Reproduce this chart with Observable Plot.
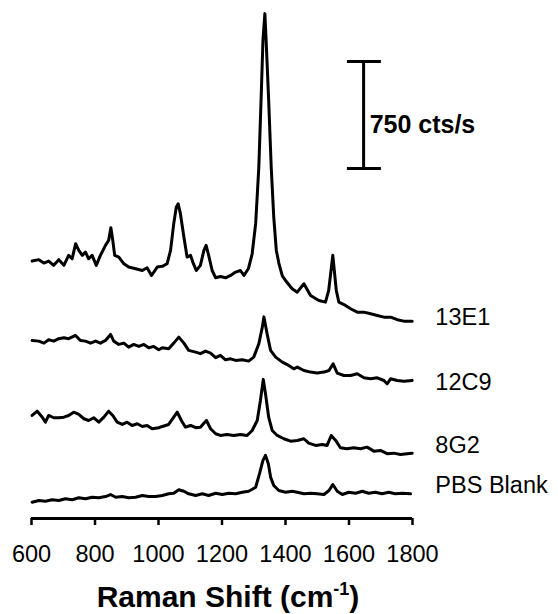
<!DOCTYPE html>
<html><head><meta charset="utf-8">
<script src="https://cdn.jsdelivr.net/npm/d3@7"></script>
<script src="https://cdn.jsdelivr.net/npm/@observablehq/plot@0.6"></script>
<style>
body{margin:0;background:#fff;}
#wrap{position:relative;width:558px;height:614px;font-family:Arial,"Liberation Sans",sans-serif;background:#fff;}
#title{position:absolute;left:0;top:582px;width:456px;text-align:center;font-size:30px;font-weight:bold;line-height:30px;color:#000;}
#title sup{font-size:18px;vertical-align:12px;line-height:0;}
</style></head><body>
<div id="wrap"><div id="chart"></div><div id="title">Raman Shift (cm<sup>-1</sup>)</div></div>
<script>
// Raman shift (cm^-1) vs. displayed intensity (cts/s, traces stacked)
const s13E1 = [[602,1804],[623,1814],[639,1790],[654,1804],[670,1774],[686,1814],[702,1774],[717,1844],[728,1820],[739,1926],
[749,1879],[760,1844],[770,1867],[780,1820],[791,1844],[804,1774],[817,1844],[833,1914],[843,1949],[850,2038],
[856,1949],[862,1844],[875,1832],[891,1785],[906,1762],[928,1750],[949,1738],[964,1757],[978,1703],[996,1762],
[1012,1767],[1027,1785],[1038,1879],[1048,2066],[1056,2182],[1062,2206],[1069,2136],[1080,1972],[1090,1832],[1101,1844],
[1108,1797],[1119,1738],[1132,1774],[1143,1879],[1150,1914],[1158,1844],[1169,1738],[1180,1687],[1195,1696],[1211,1687],
[1227,1703],[1243,1727],[1258,1738],[1269,1703],[1283,1750],[1295,1855],[1306,2066],[1316,2463],[1323,2930],[1329,3351],
[1335,3538],[1339,3351],[1347,2930],[1355,2463],[1363,2112],[1371,1880],[1379,1790],[1390,1700],[1400,1668],[1421,1610],
[1437,1586],[1458,1645],[1479,1563],[1505,1528],[1526,1516],[1536,1598],[1549,1844],[1560,1598],[1568,1516],[1589,1493],
[1605,1470],[1626,1446],[1647,1446],[1668,1435],[1689,1423],[1710,1411],[1731,1411],[1752,1393],[1773,1383],[1799,1383]];
const s12C9 = [[602,1248],[623,1243],[639,1229],[654,1253],[670,1243],[686,1260],[702,1267],[717,1260],[739,1283],[754,1248],
[770,1243],[786,1229],[802,1243],[817,1229],[833,1248],[849,1290],[859,1243],[875,1220],[891,1229],[906,1201],
[922,1220],[938,1206],[954,1220],[969,1197],[985,1206],[1001,1183],[1012,1197],[1032,1190],[1048,1229],[1064,1271],
[1080,1229],[1095,1178],[1117,1166],[1132,1155],[1148,1173],[1164,1159],[1180,1127],[1195,1143],[1211,1112],[1227,1119],
[1243,1108],[1264,1112],[1284,1103],[1300,1131],[1316,1225],[1327,1341],[1332,1413],[1342,1295],[1353,1178],[1369,1131],
[1390,1096],[1410,1073],[1426,1049],[1437,1061],[1458,1037],[1479,1026],[1500,1019],[1521,1026],[1537,1037],[1550,1084],
[1563,1019],[1584,1002],[1605,1002],[1626,1014],[1647,986],[1668,979],[1689,986],[1710,967],[1720,944],[1731,979],
[1752,967],[1773,962],[1799,967]];
const s8G2 = [[602,722],[618,752],[634,710],[644,675],[654,722],[670,706],[686,706],[702,710],[717,722],[733,745],
[749,729],[765,699],[780,687],[796,706],[812,675],[828,710],[843,752],[856,722],[870,675],[886,659],
[901,675],[917,652],[933,664],[949,645],[964,652],[980,629],[1001,636],[1012,645],[1032,659],[1048,710],
[1059,745],[1072,687],[1085,640],[1101,652],[1117,636],[1132,640],[1143,668],[1151,687],[1164,629],[1180,594],
[1195,582],[1216,589],[1237,582],[1258,589],[1279,582],[1295,617],[1311,687],[1321,827],[1330,975],[1337,874],
[1347,710],[1358,617],[1374,582],[1395,559],[1416,542],[1437,547],[1458,559],[1473,528],[1495,512],[1516,519],
[1531,512],[1544,582],[1558,547],[1573,496],[1594,489],[1615,496],[1636,489],[1657,500],[1678,472],[1699,477],
[1720,454],[1741,458],[1762,449],[1783,454],[1799,458]];
const sPBS = [[602,114],[623,126],[644,121],[665,131],[686,126],[707,138],[728,131],[749,145],[770,138],[791,149],
[812,145],[833,154],[849,168],[865,149],[886,154],[906,145],[928,149],[949,161],[969,154],[991,154],
[1012,161],[1032,173],[1048,177],[1064,201],[1080,191],[1095,173],[1117,161],[1138,173],[1158,161],[1180,177],
[1201,168],[1221,177],[1243,173],[1264,184],[1284,191],[1306,219],[1318,313],[1329,407],[1337,442],[1346,383],
[1353,290],[1363,231],[1379,196],[1400,184],[1421,191],[1437,184],[1458,173],[1479,177],[1500,173],[1521,168],
[1537,196],[1549,238],[1563,191],[1579,168],[1599,184],[1621,177],[1642,191],[1662,177],[1683,184],[1704,173],
[1725,184],[1746,173],[1768,177],[1794,173]];

const seriesNames = ["13E1", "12C9", "8G2", "PBS Blank"];
const seriesData = [s13E1, s12C9, s8G2, sPBS];
const labelAnchorY = [1409, 953, 512, 231];   // cts/s where each label sits
const labelAnchorX = 1872;                    // cm^-1, right of the traces
const xTicks = [600, 800, 1000, 1200, 1400, 1600, 1800];
const scaleBarLabel = "750 cts/s";
const scaleBarSpan = 750;
const scaleBarBottom = 2453;
const scaleBarX = 1646;
const scaleBarCaps = [1595, 1702];
const scaleBarLabelX = 1665;
const scaleBarLabelY = 2760;

const rows = seriesNames.flatMap((name, i) => seriesData[i].map(([x, y]) => ({series: name, x, y})));
const labels = seriesNames.map((name, i) => ({name, x: labelAnchorX, y: labelAnchorY[i]}));
const barEnds = [scaleBarBottom, scaleBarBottom + scaleBarSpan];

const chart = Plot.plot({
  width: 558, height: 570,
  marginLeft: 31, marginRight: 146, marginTop: 0, marginBottom: 52,
  x: {domain: [600, 1800]},
  y: {domain: [0, 3630], axis: null},
  style: {fontFamily: "Arial, 'Liberation Sans', sans-serif", background: "white", color: "black", overflow: "visible"},
  marks: [
    Plot.ruleY([0], {stroke: "black", strokeWidth: 3}),
    Plot.axisX({ticks: xTicks, tickSize: 7, tickPadding: 20, fontSize: 23.5, strokeWidth: 2.5, tickFormat: d => String(d), label: null}),
    Plot.line(rows, {x: "x", y: "y", z: "series", stroke: "black", strokeWidth: 3, strokeLinejoin: "round"}),
    Plot.text(labels, {x: "x", y: "y", text: "name", textAnchor: "start", fontSize: 23.5, fill: "black"}),
    Plot.ruleX([scaleBarX], {y1: barEnds[0], y2: barEnds[1], stroke: "black", strokeWidth: 3}),
    Plot.ruleY(barEnds, {x1: scaleBarCaps[0], x2: scaleBarCaps[1], stroke: "black", strokeWidth: 3}),
    Plot.text([scaleBarLabel], {x: scaleBarLabelX, y: scaleBarLabelY, text: d => d, textAnchor: "start", fontSize: 25, fontWeight: "bold", fill: "black"})
  ]
});
document.getElementById("chart").appendChild(chart);
</script>
</body></html>
